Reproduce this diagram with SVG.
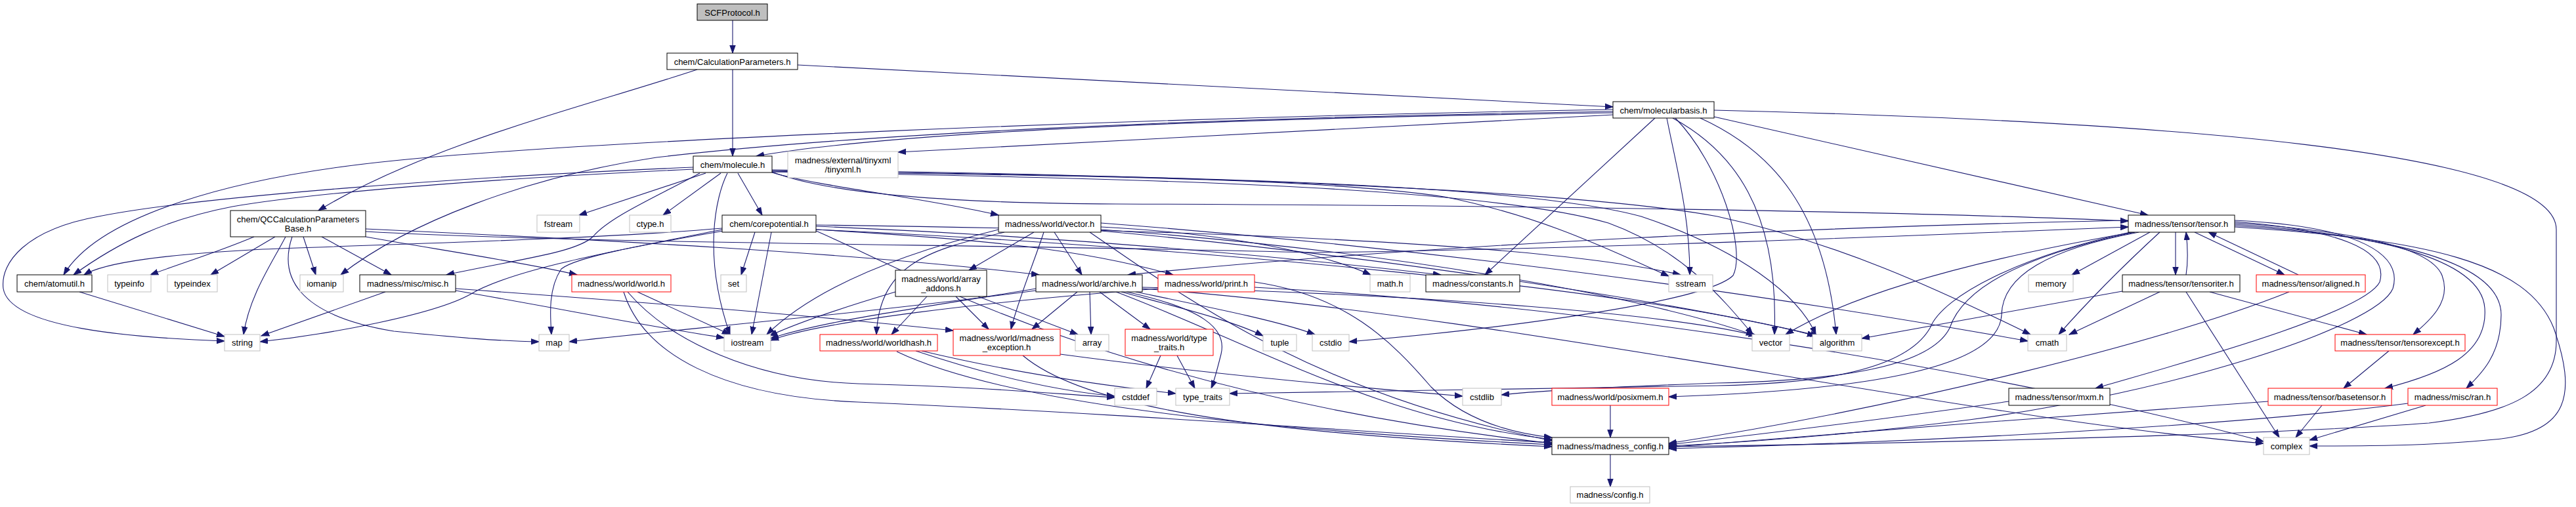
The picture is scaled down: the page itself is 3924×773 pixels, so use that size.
<svg xmlns="http://www.w3.org/2000/svg" width="3924" height="773" viewBox="0 0 3924 773">
<defs>
<style>
.n rect{fill:#fff;stroke:#000;stroke-width:1}
.g rect{stroke:#bfbfbf}
.r rect{stroke:#ff0000}
.root rect{fill:#bfbfbf}
text{font-family:"Liberation Sans",Arial,Helvetica,sans-serif;font-size:13px;fill:#000;text-anchor:middle}
#edges path{fill:none;stroke:#191970;stroke-width:1.1;marker-end:url(#a)}
</style>
<marker id="a" markerWidth="13" markerHeight="10" refX="12" refY="5" orient="auto" markerUnits="userSpaceOnUse"><path d="M0,0.8 L12,5 L0,9.2 z" fill="#191970" stroke="#191970" stroke-width="1"/></marker>
</defs>
<rect width="3924" height="773" fill="#fff"/>
<g id="edges">
<path d="M1116,31 L1116,81"/>
<path d="M1116,106 L1116,238"/>
<path d="M1215,99 L2457,163"/>
<path d="M1062,106 C900,160 650,220 485,321"/>
<path d="M2457,172 C2000,178 1400,195 1152,238"/>
<path d="M2457,175 L1368,232"/>
<path d="M2457,167 C1700,180 900,215 600,245 C350,270 150,330 97,419"/>
<path d="M2457,170 C1800,180 1300,205 1000,240 C800,270 620,340 519,419"/>
<path d="M2611,178 L3272,328"/>
<path d="M2611,168 C3300,185 3894,230 3894,350 L3894,520 C3894,600 3820,630 3700,645 C3500,660 3000,675 2542,681"/>
<path d="M2521,180 L2262,419"/>
<path d="M2539,180 C2555,260 2574,330 2574,419"/>
<path d="M2548,180 C2640,230 2710,320 2703,510"/>
<path d="M2590,180 C2700,230 2780,320 2797,510"/>
<path d="M2552,180 C2620,250 2660,380 2640,420 C2600,460 2300,500 2055,521"/>
<path d="M1075,264 L882,328"/>
<path d="M1098,264 L1010,328"/>
<path d="M1124,264 L1161,328"/>
<path d="M1056,255 C700,270 300,300 150,330 C40,350 0,400 5,440 C15,500 200,515 342,520"/>
<path d="M1056,258 C800,270 500,290 354,315 C250,335 180,370 112,419"/>
<path d="M1108,264 C1090,300 1070,390 1112,510"/>
<path d="M1066,264 C1000,300 930,330 904,360 C880,385 790,395 680,419"/>
<path d="M1176,262 C1260,295 1450,310 1700,311 C2300,313 2900,322 3242,337"/>
<path d="M1176,263 C1250,285 1400,300 1521,328"/>
<path d="M1176,261 C1600,268 2000,270 2200,300 C2350,330 2450,380 2542,421"/>
<path d="M1176,260 C1700,268 2300,275 2500,330 C2650,380 2740,450 2766,510"/>
<path d="M1176,262 C1700,272 2250,282 2450,340 C2560,380 2620,450 2670,510"/>
<path d="M1176,259 C1800,266 2400,290 2616,330 C2800,370 2950,440 3093,510"/>
<path d="M1150,354 L1129,419"/>
<path d="M1175,354 L1145,510"/>
<path d="M1102,352 C1000,370 880,390 855,410 C835,440 838,480 840,510"/>
<path d="M1100,350 C950,380 780,410 716,449 C660,480 500,510 396,521"/>
<path d="M1100,348 C900,365 600,372 400,380 C250,388 160,400 128,419"/>
<path d="M1243,345 C1600,360 1900,385 2195,419"/>
<path d="M1243,350 C1500,365 1650,380 1787,419"/>
<path d="M1243,350 C1800,375 2500,440 2765,512"/>
<path d="M1243,352 C1400,420 1700,600 2364,676"/>
<path d="M1243,343 C1800,350 2350,370 2560,419"/>
<path d="M1530,354 C1420,380 1340,400 1335,510"/>
<path d="M1575,354 L1476,412"/>
<path d="M1590,354 C1575,400 1550,460 1540,502"/>
<path d="M1606,354 L1648,419"/>
<path d="M1677,346 C1850,355 2000,380 2088,419"/>
<path d="M1521,350 C1400,380 1250,430 1168,510"/>
<path d="M1677,350 C2100,380 2500,450 2672,511"/>
<path d="M1677,352 C2100,390 2550,460 2770,512"/>
<path d="M1660,354 C1800,450 2000,600 2364,672"/>
<path d="M1677,340 C2200,380 2700,450 3089,520"/>
<path d="M1412,452 L1358,510"/>
<path d="M1456,452 L1506,502"/>
<path d="M1490,452 L1642,510"/>
<path d="M1364,445 C1280,470 1220,490 1172,512"/>
<path d="M1641,445 L1572,502"/>
<path d="M1660,445 L1662,510"/>
<path d="M1675,445 L1752,502"/>
<path d="M1708,445 C1800,470 1880,490 1924,512"/>
<path d="M1716,445 C1830,470 1870,500 1860,540 C1855,560 1850,580 1845,592"/>
<path d="M1730,445 C1850,470 1950,490 2003,510"/>
<path d="M1578,440 C1400,470 1250,490 1174,516"/>
<path d="M1578,443 C1300,480 1000,505 867,521"/>
<path d="M1740,440 C2300,480 3000,640 3448,676"/>
<path d="M1700,445 C1900,520 2100,640 2364,670"/>
<path d="M1740,438 C2200,450 2550,480 2676,512"/>
<path d="M3242,336 C2800,345 2200,370 1718,419"/>
<path d="M1764,440 C1500,460 1250,490 1174,519"/>
<path d="M1911,438 C2500,470 3100,580 3448,673"/>
<path d="M1911,430 C2050,450 2120,520 2180,590 C2230,640 2300,660 2364,667"/>
<path d="M1395,535 C1500,570 1600,595 1698,604"/>
<path d="M1404,535 C1550,570 1700,590 1791,600"/>
<path d="M1366,536 C1500,600 1800,650 2364,678"/>
<path d="M1558,542 C1650,620 1900,660 2364,681"/>
<path d="M1615,540 C1800,565 2000,585 2228,604"/>
<path d="M1768,542 L1746,592"/>
<path d="M1793,542 L1820,592"/>
<path d="M971,445 L1112,510"/>
<path d="M956,445 C1020,520 1150,580 1307,585 C1500,590 1600,600 1698,606"/>
<path d="M950,445 C980,540 1100,605 1307,613 C1700,630 2100,660 2364,675"/>
<path d="M587,445 L398,512"/>
<path d="M694,443 C850,470 1000,500 1103,515"/>
<path d="M694,440 C1000,462 1250,482 1452,504"/>
<path d="M121,445 L342,513"/>
<path d="M387,361 C330,385 280,400 229,419"/>
<path d="M419,361 L321,419"/>
<path d="M435,361 C415,400 380,450 371,510"/>
<path d="M445,361 C425,420 450,480 600,505 C700,515 760,520 821,521"/>
<path d="M462,361 L481,419"/>
<path d="M490,361 L596,419"/>
<path d="M557,361 C650,378 800,400 879,419"/>
<path d="M557,349 C900,365 1300,385 1583,419"/>
<path d="M557,353 C900,372 1500,372 2000,385 C2400,380 2900,360 3242,346"/>
<path d="M3314,354 L3314,419"/>
<path d="M3330,419 C3333,400 3333,380 3330,354"/>
<path d="M3343,354 L3480,419"/>
<path d="M3501,419 L3364,354"/>
<path d="M3275,354 L3156,419"/>
<path d="M3290,354 C3240,400 3180,460 3136,510"/>
<path d="M3290,445 L3152,510"/>
<path d="M3233,444 L2836,516"/>
<path d="M3250,354 C3100,380 2850,430 2720,510"/>
<path d="M3366,445 L3605,510"/>
<path d="M3330,445 L3472,667"/>
<path d="M3404,340 C3550,350 3700,370 3720,420 C3735,460 3700,490 3676,510"/>
<path d="M3404,342 C3600,355 3780,390 3785,470 C3790,540 3720,570 3633,592"/>
<path d="M3404,344 C3650,360 3810,400 3810,480 C3810,540 3780,570 3757,592"/>
<path d="M3404,346 C3700,365 3850,400 3890,500 C3925,600 3915,660 3800,670 C3700,680 3600,680 3518,680"/>
<path d="M3258,354 C3120,380 3050,420 3049,480 C3045,560 2850,595 2542,605"/>
<path d="M3252,354 C3080,390 2990,440 2970,500 C2940,560 2800,580 2616,584 C2450,590 2350,595 2287,602"/>
<path d="M3245,354 C3080,390 2960,450 2940,500 C2900,570 2750,585 2616,588 C2300,592 2000,596 1873,600"/>
<path d="M3404,338 C3560,350 3640,380 3625,430 C3600,480 3300,560 3192,592"/>
<path d="M3404,336 C3600,345 3660,390 3645,440 C3620,500 3300,600 3000,640 C2800,665 2650,675 2542,680"/>
<path d="M3487,445 C3300,520 2900,620 2542,676"/>
<path d="M3060,612 C2900,635 2700,660 2542,678"/>
<path d="M3455,612 C3200,630 2800,660 2542,682"/>
<path d="M3668,615 C3400,650 2900,675 2542,684"/>
<path d="M3537,618 L3497,667"/>
<path d="M3695,618 L3518,671"/>
<path d="M3639,535 L3570,592"/>
<path d="M2453,618 L2453,667"/>
<path d="M2453,693 L2453,742"/>
</g>
<g id="scf" class="n root"><rect x="1062" y="6" width="107" height="25"/><text x="1115.5" y="23.5">SCFProtocol.h</text></g>
<g id="calc" class="n"><rect x="1016" y="81" width="199" height="25"/><text x="1115.5" y="98.5">chem/CalculationParameters.h</text></g>
<g id="mbasis" class="n"><rect x="2457" y="155" width="154" height="25"/><text x="2534" y="172.5">chem/molecularbasis.h</text></g>
<g id="molecule" class="n"><rect x="1056" y="238" width="120" height="25"/><text x="1116" y="255.5">chem/molecule.h</text></g>
<g id="tinyxml" class="n g"><rect x="1200" y="231" width="168" height="40"/><text x="1284" y="248.5">madness/external/tinyxml</text><text x="1284" y="262.5">/tinyxml.h</text></g>
<g id="qccalc" class="n"><rect x="351" y="321" width="206" height="40"/><text x="454" y="338.5">chem/QCCalculationParameters</text><text x="454" y="352.5">Base.h</text></g>
<g id="fstream" class="n g"><rect x="818" y="328" width="65" height="26"/><text x="850.5" y="345.5">fstream</text></g>
<g id="ctype" class="n g"><rect x="959" y="328" width="63" height="26"/><text x="990.5" y="345.5">ctype.h</text></g>
<g id="corepot" class="n"><rect x="1100" y="328" width="143" height="26"/><text x="1171.5" y="345.5">chem/corepotential.h</text></g>
<g id="vectorh" class="n"><rect x="1521" y="328" width="156" height="26"/><text x="1599" y="345.5">madness/world/vector.h</text></g>
<g id="tensor" class="n"><rect x="3242" y="328" width="162" height="26"/><text x="3323" y="345.5">madness/tensor/tensor.h</text></g>
<g id="atomutil" class="n"><rect x="26" y="419" width="114" height="26"/><text x="83" y="436.5">chem/atomutil.h</text></g>
<g id="typeinfo" class="n g"><rect x="164" y="419" width="66" height="26"/><text x="197" y="436.5">typeinfo</text></g>
<g id="typeindex" class="n g"><rect x="255" y="419" width="76" height="26"/><text x="293" y="436.5">typeindex</text></g>
<g id="iomanip" class="n g"><rect x="457" y="419" width="66" height="26"/><text x="490" y="436.5">iomanip</text></g>
<g id="misc" class="n"><rect x="548" y="419" width="146" height="26"/><text x="621" y="436.5">madness/misc/misc.h</text></g>
<g id="world" class="n r"><rect x="871" y="419" width="151" height="26"/><text x="946.5" y="436.5">madness/world/world.h</text></g>
<g id="set" class="n g"><rect x="1098" y="419" width="39" height="26"/><text x="1117.5" y="436.5">set</text></g>
<g id="arrayadd" class="n"><rect x="1364" y="412" width="139" height="40"/><text x="1433.5" y="429.5">madness/world/array</text><text x="1433.5" y="443.5">_addons.h</text></g>
<g id="archive" class="n"><rect x="1578" y="419" width="162" height="26"/><text x="1659" y="436.5">madness/world/archive.h</text></g>
<g id="print" class="n r"><rect x="1764" y="419" width="147" height="26"/><text x="1837.5" y="436.5">madness/world/print.h</text></g>
<g id="math" class="n g"><rect x="2087" y="419" width="61" height="26"/><text x="2117.5" y="436.5">math.h</text></g>
<g id="constants" class="n"><rect x="2172" y="419" width="143" height="26"/><text x="2243.5" y="436.5">madness/constants.h</text></g>
<g id="sstream" class="n g"><rect x="2542" y="419" width="67" height="26"/><text x="2575.5" y="436.5">sstream</text></g>
<g id="memory" class="n g"><rect x="3090" y="419" width="68" height="26"/><text x="3124" y="436.5">memory</text></g>
<g id="tensoriter" class="n"><rect x="3233" y="419" width="179" height="26"/><text x="3322.5" y="436.5">madness/tensor/tensoriter.h</text></g>
<g id="aligned" class="n r"><rect x="3437" y="419" width="166" height="26"/><text x="3520" y="436.5">madness/tensor/aligned.h</text></g>
<g id="string" class="n g"><rect x="342" y="510" width="54" height="25"/><text x="369" y="527">string</text></g>
<g id="map" class="n g"><rect x="821" y="510" width="46" height="25"/><text x="844" y="527">map</text></g>
<g id="iostream" class="n g"><rect x="1103" y="510" width="71" height="25"/><text x="1138.5" y="527">iostream</text></g>
<g id="worldhash" class="n r"><rect x="1249" y="510" width="179" height="25"/><text x="1338.5" y="527">madness/world/worldhash.h</text></g>
<g id="mexc" class="n r"><rect x="1452" y="502" width="163" height="40"/><text x="1533.5" y="519.5">madness/world/madness</text><text x="1533.5" y="533.5">_exception.h</text></g>
<g id="array" class="n g"><rect x="1638" y="510" width="51" height="25"/><text x="1663.5" y="527">array</text></g>
<g id="ttraitsh" class="n r"><rect x="1714" y="502" width="134" height="40"/><text x="1781" y="519.5">madness/world/type</text><text x="1781" y="533.5">_traits.h</text></g>
<g id="tuple" class="n g"><rect x="1924" y="510" width="51" height="25"/><text x="1949.5" y="527">tuple</text></g>
<g id="cstdio" class="n g"><rect x="1999" y="510" width="56" height="25"/><text x="2027" y="527">cstdio</text></g>
<g id="vector" class="n g"><rect x="2669" y="510" width="57" height="25"/><text x="2697.5" y="527">vector</text></g>
<g id="algorithm" class="n g"><rect x="2761" y="510" width="75" height="25"/><text x="2798.5" y="527">algorithm</text></g>
<g id="cmath" class="n g"><rect x="3089" y="510" width="59" height="25"/><text x="3118.5" y="527">cmath</text></g>
<g id="tensorexcept" class="n r"><rect x="3557" y="510" width="198" height="25"/><text x="3656" y="527">madness/tensor/tensorexcept.h</text></g>
<g id="cstddef" class="n g"><rect x="1698" y="592" width="64" height="26"/><text x="1730" y="609.5">cstddef</text></g>
<g id="type_traits" class="n g"><rect x="1791" y="592" width="82" height="26"/><text x="1832" y="609.5">type_traits</text></g>
<g id="cstdlib" class="n g"><rect x="2228" y="592" width="59" height="26"/><text x="2257.5" y="609.5">cstdlib</text></g>
<g id="posixmem" class="n r"><rect x="2364" y="592" width="178" height="26"/><text x="2453" y="609.5">madness/world/posixmem.h</text></g>
<g id="mxm" class="n"><rect x="3060" y="592" width="154" height="26"/><text x="3137" y="609.5">madness/tensor/mxm.h</text></g>
<g id="basetensor" class="n r"><rect x="3455" y="592" width="188" height="26"/><text x="3549" y="609.5">madness/tensor/basetensor.h</text></g>
<g id="ran" class="n r"><rect x="3668" y="592" width="136" height="26"/><text x="3736" y="609.5">madness/misc/ran.h</text></g>
<g id="mconfig" class="n"><rect x="2364" y="667" width="178" height="26"/><text x="2453" y="684.5">madness/madness_config.h</text></g>
<g id="complex" class="n g"><rect x="3448" y="667" width="70" height="26"/><text x="3483" y="684.5">complex</text></g>
<g id="config" class="n g"><rect x="2392" y="742" width="121" height="25"/><text x="2452.5" y="759">madness/config.h</text></g>
</svg>
